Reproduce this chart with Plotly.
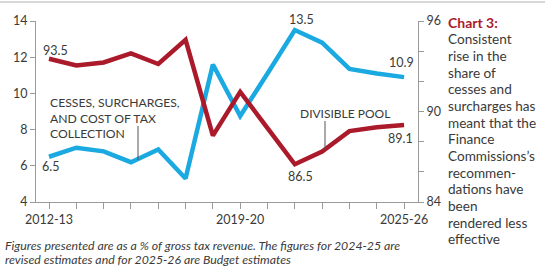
import plotly.graph_objects as go

years = ["2012-13", "2013-14", "2014-15", "2015-16", "2016-17", "2017-18", "2018-19",
         "2019-20", "2020-21", "2021-22", "2022-23", "2023-24", "2024-25", "2025-26"]
cesses = [6.5, 7.0, 6.8, 6.2, 6.9, 5.3, 11.6, 8.75, 11.1, 13.5, 12.8, 11.35, 11.1, 10.9]
divisible_pool = [93.5, 93.05, 93.25, 93.85, 93.15, 94.75, 88.4, 91.3, 88.9, 86.5, 87.35, 88.7, 88.95, 89.1]
x_tick_labels = {0: "2012-13", 7: "2019-20", 13: "2025-26"}
left_ticks = [4, 6, 8, 10, 12, 14]
right_ticks = [84, 86, 88, 90, 92, 94, 96]
right_labels = {84: "84", 90: "90", 96: "96"}

BLUE = "#1ba9e1"
RED = "#ab1a2b"
TXT = "#3a3a3a"
AX = "#9a9a9a"
FONT = "Lato"

xi = list(range(len(years)))

fig = go.Figure()
fig.add_trace(go.Scatter(x=xi, y=cesses, mode="lines", line=dict(color=BLUE, width=4.5),
                         yaxis="y", hoverinfo="skip", showlegend=False))
fig.add_trace(go.Scatter(x=xi, y=divisible_pool, mode="lines", line=dict(color=RED, width=4.5),
                         yaxis="y2", hoverinfo="skip", showlegend=False))

W, H = 545, 266
L, R, T, B = 36, 418, 21, 202
pw, ph = R - L, B - T

def px(xp):
    return (xp - L) / pw

def py(yp):
    return (B - yp) / ph

fig.update_layout(
    width=W, height=H,
    margin=dict(l=L, r=W - R, t=T, b=H - B, pad=0),
    paper_bgcolor="white", plot_bgcolor="white",
    font=dict(family=FONT, size=12, color=TXT),
    xaxis=dict(range=[-0.476, 13.51], tickmode="array", tickvals=xi,
               ticktext=[x_tick_labels.get(i, "") for i in xi],
               showgrid=False, zeroline=False, showline=True, linecolor=AX, linewidth=1,
               ticks="outside", ticklen=6, tickcolor=AX, tickfont=dict(size=12.5, color=TXT)),
    yaxis=dict(range=[4, 14], tickmode="array", tickvals=left_ticks,
               showgrid=False, zeroline=False, showline=True, linecolor=AX, linewidth=1,
               ticks="outside", ticklen=5, tickcolor=AX, tickfont=dict(size=12.5, color=TXT)),
    yaxis2=dict(range=[84, 96], overlaying="y", side="right", tickmode="array",
                tickvals=right_ticks, ticktext=[right_labels.get(v, "") for v in right_ticks],
                showgrid=False, zeroline=False, showline=True, linecolor=AX, linewidth=1,
                ticks="outside", ticklen=5, tickcolor=AX, tickfont=dict(size=12.5, color=TXT)),
)

anns = []
def txt(x, y, s, size=12.5, color=TXT, xanchor="center", italic=False, bold=False):
    if bold:
        s = "<b>" + s + "</b>"
    if italic:
        s = "<i>" + s + "</i>"
    anns.append(dict(x=px(x), y=py(y), xref="paper", yref="paper", text=s, showarrow=False,
                     xanchor=xanchor, yanchor="middle", font=dict(size=size, color=color, family=FONT)))

# value labels
txt(55, 50, "93.5")
txt(50, 166, "6.5")
txt(301, 20, "13.5")
txt(401, 63, "10.9")
txt(300, 176, "86.5")
txt(400, 138, "89.1")
# series labels
txt(48, 103, "CESSES, SURCHARGES,", size=12.2, xanchor="left")
txt(48, 118, "AND COST OF TAX", size=12.2, xanchor="left")
txt(48, 133, "COLLECTION", size=12.2, xanchor="left")
txt(345, 113, "DIVISIBLE POOL", size=12)

# right side text
side_lines = ["Consistent", "rise in the", "share of", "cesses and", "surcharges has",
              "meant that the", "Finance", "Commissions’s", "recommen-", "dations have",
              "been", "rendered less", "effective"]
txt(446, 22.5, "Chart 3:", size=14, color=RED, xanchor="left", bold=True)
for k, s in enumerate(side_lines):
    txt(446, 39.3 + k * 16.67, s, size=13.6, xanchor="left")

# footnote
txt(3, 245.5, "Figures presented are as a % of gross tax revenue. The figures for 2024-25 are",
    size=12.3, xanchor="left", italic=True)
txt(3, 259, "revised estimates and for 2025-26 are Budget estimates", size=12.3, xanchor="left", italic=True)

fig.update_layout(annotations=anns)

shapes = [
    dict(type="line", xref="paper", yref="paper", x0=px(0), x1=px(W), y0=py(2), y1=py(2),
         line=dict(color="#b0b0b0", width=1)),
    dict(type="line", xref="paper", yref="paper", x0=px(138), x1=px(138), y0=py(126), y1=py(160),
         line=dict(color="#555555", width=1)),
    dict(type="line", xref="paper", yref="paper", x0=px(325), x1=px(325), y0=py(121), y1=py(150),
         line=dict(color="#555555", width=1)),
]
fig.update_layout(shapes=shapes)

fig.write_html("out.html", config={"displayModeBar": False},
               post_script="document.body.style.margin='0';")
